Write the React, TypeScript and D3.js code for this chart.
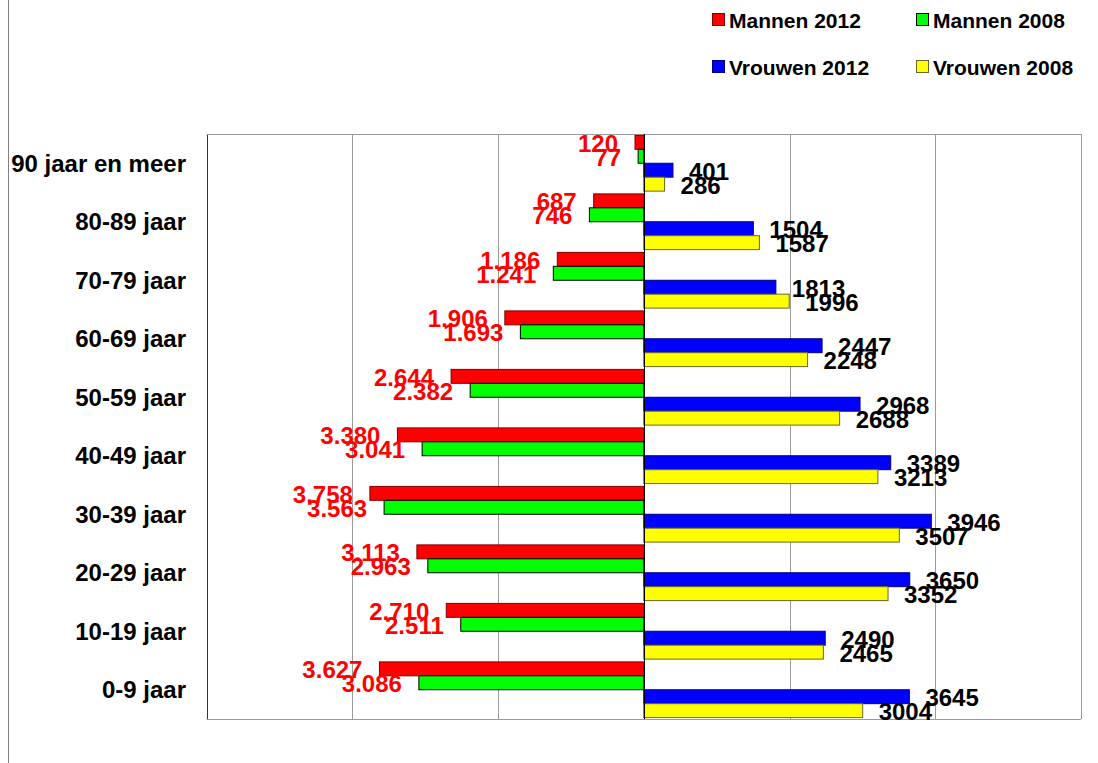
import React from "react";
import * as d3 from "d3";

const categories = [
  "90 jaar en meer",
  "80-89 jaar",
  "70-79 jaar",
  "60-69 jaar",
  "50-59 jaar",
  "40-49 jaar",
  "30-39 jaar",
  "20-29 jaar",
  "10-19 jaar",
  "0-9 jaar",
];

const mannen2012 = [120, 687, 1186, 1906, 2644, 3380, 3758, 3113, 2710, 3627];
const mannen2008 = [77, 746, 1241, 1693, 2382, 3041, 3563, 2963, 2511, 3086];
const vrouwen2012 = [401, 1504, 1813, 2447, 2968, 3389, 3946, 3650, 2490, 3645];
const vrouwen2008 = [286, 1587, 1996, 2248, 2688, 3213, 3507, 3352, 2465, 3004];

const xTicks = [-6000, -4000, -2000, 0, 2000, 4000, 6000];

const series = [
  { key: "Mannen 2012", values: mannen2012, side: -1, fill: "#ff0000", stroke: "#800000" },
  { key: "Mannen 2008", values: mannen2008, side: -1, fill: "#00ff00", stroke: "#000000" },
  { key: "Vrouwen 2012", values: vrouwen2012, side: 1, fill: "#0000ff", stroke: "#000080" },
  { key: "Vrouwen 2008", values: vrouwen2008, side: 1, fill: "#ffff00", stroke: "#666633" },
];

const legendOrder = [
  { key: "Mannen 2012", col: 0, row: 0 },
  { key: "Mannen 2008", col: 1, row: 0 },
  { key: "Vrouwen 2012", col: 0, row: 1 },
  { key: "Vrouwen 2008", col: 1, row: 1 },
];

const nl = d3.formatLocale({
  decimal: ",",
  thousands: ".",
  grouping: [3],
  currency: ["€", ""],
});
const fmtMan = nl.format(",");

export default function App() {
  const width = 1098;
  const height = 763;
  const plot = { left: 206.5, right: 1081, top: 134, bottom: 719 };
  const font = "'Liberation Sans', Arial, sans-serif";

  const x = d3.scaleLinear().domain([-6000, 6000]).range([plot.left, plot.right]);
  const y = d3.scaleBand().domain(categories).range([plot.top, plot.bottom]);
  const sub = d3
    .scaleBand()
    .domain(series.map((s) => s.key))
    .range([0, y.bandwidth()])
    .paddingOuter(0.1);

  return (
    <div>
      <style>{"body{margin:0}"}</style>
      <svg width={width} height={height} style={{ display: "block", fontFamily: font }}>
        <rect width={width} height={height} fill="#fff" />
        <line x1={8.5} x2={8.5} y1={0} y2={height} stroke="#808080" />

        {/* grid */}
        {xTicks.map((t) => (
          <line
            key={t}
            x1={Math.round(x(t)) + 0.5}
            x2={Math.round(x(t)) + 0.5}
            y1={plot.top}
            y2={plot.bottom}
            stroke={t === 0 ? "#000" : t === -6000 ? "#333" : "#9a9a9a"}
          />
        ))}
        <line x1={plot.left} x2={plot.right} y1={plot.top + 0.5} y2={plot.top + 0.5} stroke="#9a9a9a" />
        <line x1={plot.left} x2={plot.right} y1={plot.bottom + 0.5} y2={plot.bottom + 0.5} stroke="#9a9a9a" />

        {/* bars */}
        {series.map((s) =>
          s.values.map((v, i) => {
            const yy = (y(categories[i]) as number) + (sub(s.key) as number);
            const h = sub.bandwidth();
            const x0 = x(0);
            const x1 = x(s.side * v);
            return (
              <rect
                key={s.key + i}
                x={Math.min(x0, x1)}
                y={yy}
                width={Math.abs(x1 - x0)}
                height={h}
                fill={s.fill}
                stroke={s.stroke}
                strokeWidth={1}
              />
            );
          })
        )}
        <line
          x1={Math.round(x(0)) + 0.5}
          x2={Math.round(x(0)) + 0.5}
          y1={plot.top}
          y2={plot.bottom}
          stroke="#000"
        />

        {/* labels */}
        {series.map((s) =>
          s.values.map((v, i) => {
            const yy = (y(categories[i]) as number) + (sub(s.key) as number) + sub.bandwidth() / 2;
            const xe = x(s.side * v);
            return (
              <text
                key={"l" + s.key + i}
                x={s.side < 0 ? xe - 17 : xe + 16}
                y={yy + 1}
                dominantBaseline="central"
                textAnchor={s.side < 0 ? "end" : "start"}
                fontSize={24}
                fontWeight="bold"
                fill={s.side < 0 ? "#ff0000" : "#000"}
              >
                {s.side < 0 ? fmtMan(v) : String(v)}
              </text>
            );
          })
        )}

        {/* category labels */}
        {categories.map((c) => (
          <text
            key={c}
            x={186}
            y={(y(c) as number) + y.bandwidth() / 2}
            dominantBaseline="central"
            textAnchor="end"
            fontSize={24}
            fontWeight="bold"
            fill="#000"
          >
            {c}
          </text>
        ))}

        {/* legend */}
        {legendOrder.map((l) => {
          const s = series.find((d) => d.key === l.key)!;
          const lx = 712 + l.col * 204;
          const ly = 20 + l.row * 47;
          return (
            <g key={l.key}>
              <rect x={lx + 0.5} y={ly - 6.5} width={12} height={12} fill={s.fill} stroke={s.stroke} />
              <text
                x={lx + 17}
                y={ly}
                dominantBaseline="central"
                fontSize={21}
                fontWeight="bold"
                fill="#000"
              >
                {l.key}
              </text>
            </g>
          );
        })}
      </svg>
    </div>
  );
}
